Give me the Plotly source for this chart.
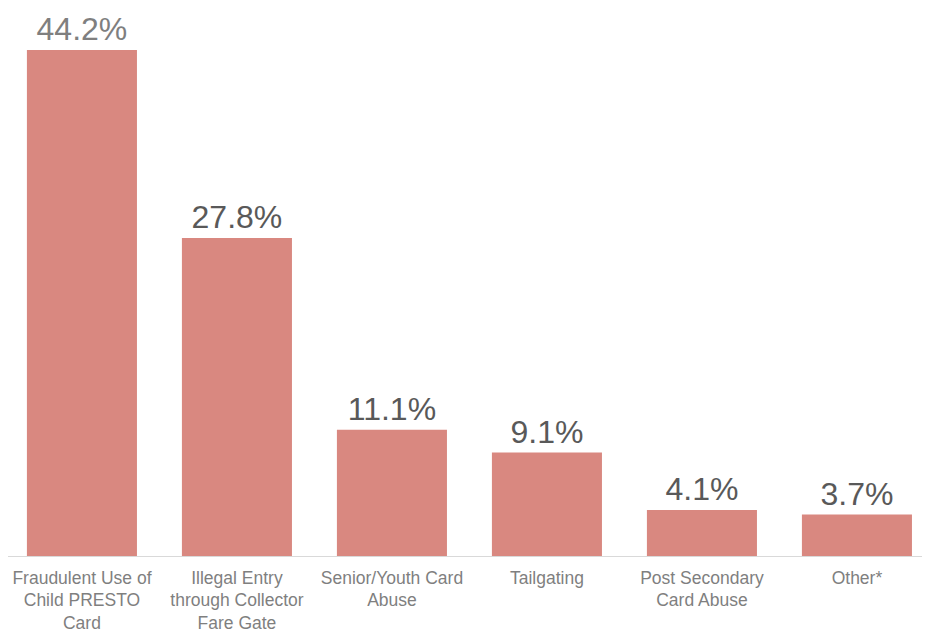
import plotly.graph_objects as go

categories = [
    'Fraudulent Use of<br>Child PRESTO<br>Card',
    'Illegal Entry<br>through Collector<br>Fare Gate',
    'Senior/Youth Card<br>Abuse',
    'Tailgating',
    'Post Secondary<br>Card Abuse',
    'Other*',
]
values = [44.2, 27.8, 11.1, 9.1, 4.1, 3.7]
labels = ['44.2%', '27.8%', '11.1%', '9.1%', '4.1%', '3.7%']
label_colors = ['#7f7f7f', '#595959', '#595959', '#595959', '#595959', '#595959']

BAR_COLOR = '#d98880'

fig = go.Figure()

fig.add_trace(
    go.Bar(
        x=list(range(len(categories))),
        y=values,
        text=labels,
        textposition='outside',
        textfont=dict(size=32, color=label_colors, family='Liberation Sans, Arial'),
        cliponaxis=False,
        marker=dict(color=BAR_COLOR, line=dict(width=0)),
        width=0.71,
        showlegend=False,
    )
)

# baseline
fig.add_shape(type='line', xref='paper', yref='y', x0=0, x1=917 / 930, y0=0, y1=0,
              line=dict(color='#d9d9d9', width=2))

# the page body adds an 8px offset, so the plot area is shifted up/left to compensate
fig.update_xaxes(
    tickmode='array',
    tickvals=list(range(len(categories))),
    ticktext=categories,
    range=[-0.477, 5.523],
    showgrid=False,
    zeroline=False,
    showline=False,
    ticks='',
    ticklabelstandoff=8,
    tickfont=dict(size=17.5, color='#7f7f7f', family='Liberation Sans, Arial'),
)
fig.update_yaxes(range=[0, 47.86], visible=False, showgrid=False, zeroline=False)

fig.update_layout(
    width=930,
    height=631,
    margin=dict(l=0, r=0, t=0, b=82, pad=0),
    plot_bgcolor='white',
    paper_bgcolor='white',
    bargap=0.29,
)

fig.write_html('out.html')
